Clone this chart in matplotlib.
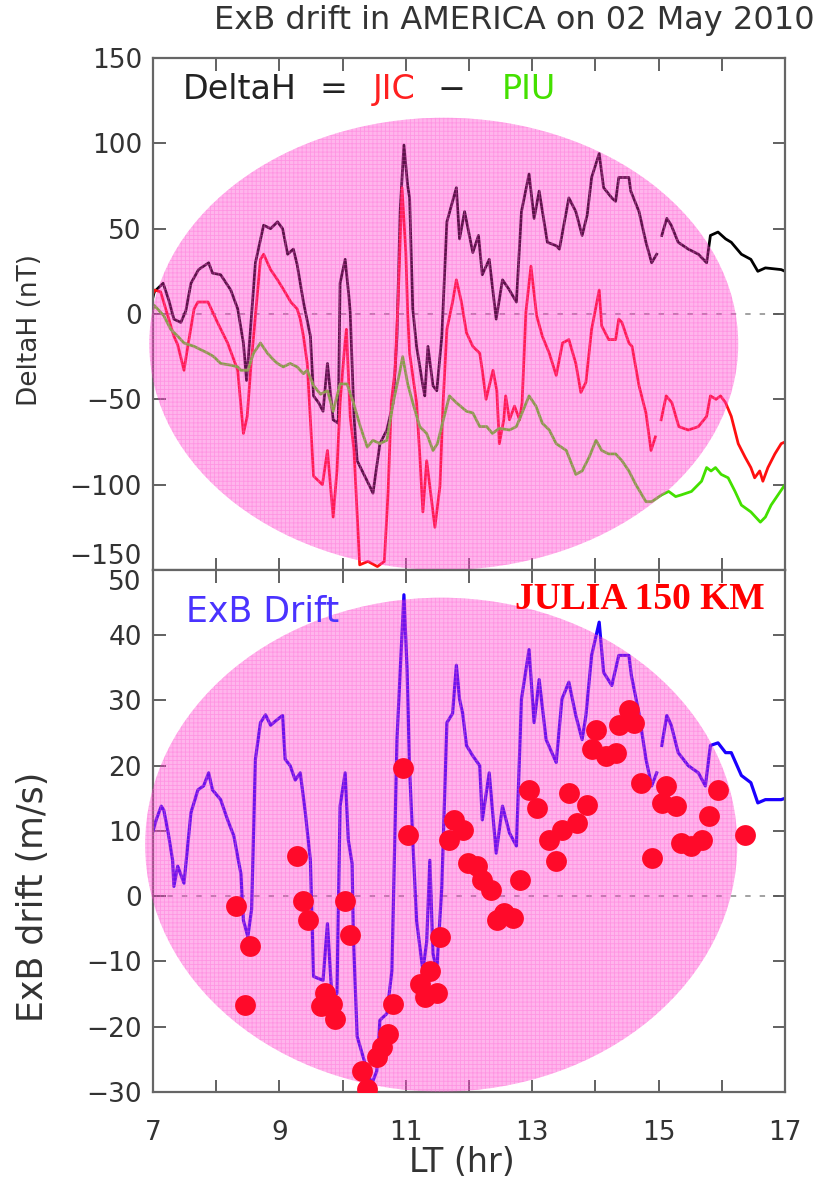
import numpy as np
import matplotlib
matplotlib.use("Agg")
import matplotlib.pyplot as plt
from matplotlib.patches import Ellipse

nan = np.nan
plt.rcParams['hatch.linewidth'] = 0.6

# DeltaH = JIC - PIU (nT)
dh_t = [7.00, 7.02, 7.16, 7.25, 7.33, 7.44, 7.52, 7.60, 7.72, 7.88, 7.94, 8.07, 8.23, 8.34, 8.43, 8.48,
        8.54, 8.62, 8.75, 8.86, 8.97, 9.05, 9.13, 9.22, 9.28, 9.38, 9.49, 9.54, 9.62, 9.69, 9.76, 9.85,
        9.93, 9.96, 10.04, 10.10, 10.12, 10.18, 10.23, 10.35, 10.43, 10.48, 10.59, 10.70, 10.80, 10.86,
        10.91, 10.97, 11.03, 11.06, 11.11, 11.17, 11.27, 11.30, 11.35, 11.43, 11.49, 11.57, 11.65, 11.80,
        11.85, 11.93, 12.06, 12.15, 12.21, 12.32, 12.43, 12.53, 12.64, 12.75, 12.83, 12.95, 13.03, 13.11,
        13.24, 13.38, 13.43, 13.58, 13.69, 13.79, 13.87, 13.94, 14.06, 14.13, 14.26, 14.32, 14.37, 14.53,
        14.56, 14.69, 14.80, 14.89, 14.97, 15.00, 15.05, 15.13, 15.20, 15.31, 15.47, 15.63, 15.76, 15.82,
        15.94, 16.06, 16.15, 16.31, 16.46, 16.57, 16.69, 16.94, 17.00]
dh_v = [10, 13, 18, 8, -3, -5, 2, 18, 26, 30, 24, 23, 14, 3, -17, -39,
        -10, 30, 52, 50, 54, 50, 35, 38, 29, 7, -13, -48, -52, -57, -29, -62,
        -64, 18, 32, 10, 1, -60, -86, -95, -101, -105, -76, -68, -52, -13,
        60, 99, 75, 68, 3, -19, -42, -48, -19, -42, -45, -13, 54, 74,
        44, 60, 36, 46, 23, 32, -3, 20, 14, 7, 60, 82, 56, 72,
        42, 40, 38, 68, 60, 46, 58, 80, 94, 74, 68, 66, 80, 80,
        72, 60, 42, 30, 35, nan, 46, 56, 52, 42, 38, 35, 30, 46,
        48, 44, 42, 35, 32, 25, 27, 26, 25]

# JIC (nT)
jic_t = [7.00, 7.02, 7.12, 7.33, 7.39, 7.49, 7.55, 7.65, 7.71, 7.87, 8.02, 8.18, 8.34, 8.43, 8.49, 8.55,
         8.70, 8.75, 8.86, 8.97, 9.07, 9.18, 9.28, 9.33, 9.38, 9.44, 9.54, 9.68, 9.76, 9.85, 9.91, 9.96,
         10.03, 10.06, 10.12, 10.18, 10.27, 10.40, 10.55, 10.66, 10.72, 10.77, 10.83, 10.88, 10.94, 11.00,
         11.03, 11.06, 11.17, 11.22, 11.27, 11.33, 11.46, 11.54, 11.59, 11.65, 11.74, 11.80, 11.88, 11.96,
         12.06, 12.17, 12.21, 12.27, 12.38, 12.44, 12.48, 12.55, 12.58, 12.64, 12.72, 12.80, 12.84, 12.90,
         12.98, 13.07, 13.16, 13.27, 13.38, 13.48, 13.58, 13.69, 13.77, 13.85, 13.94, 14.06, 14.10, 14.21,
         14.32, 14.37, 14.42, 14.53, 14.58, 14.69, 14.80, 14.88, 14.95, 15.00, 15.04, 15.12, 15.21, 15.32,
         15.47, 15.63, 15.76, 15.82, 15.91, 15.98, 16.06, 16.15, 16.26, 16.37, 16.46, 16.52, 16.60, 16.65,
         16.73, 16.84, 16.94, 17.00]
jic_v = [12, 14, 13, -13, -18, -33, -19, 3, 7, 7, -5, -17, -33, -70, -60, -30,
         32, 35, 26, 20, 14, 7, 3, -3, -13, -29, -95, -100, -80, -119, -92, -52,
         -20, -9, -60, -80, -147, -145, -148, -145, -104, -52, -33, 10, 74, 36,
         0, -23, -52, -82, -116, -86, -125, -101, -52, -9, 7, 20, 7, -11,
         -19, -23, -33, -50, -33, -45, -76, -62, -48, -62, -54, -62, -52, 1,
         28, -1, -13, -23, -36, -17, -15, -29, -46, -40, -9, 14, -7, -15,
         -15, -3, -5, -17, -19, -42, -58, -80, -72, nan, -62, -48, -52, -66,
         -68, -66, -60, -48, -50, -48, -52, -60, -76, -84, -90, -96, -92, -98,
         -90, -82, -76, -75]

# PIU (nT)
piu_t = [7.00, 7.02, 7.17, 7.28, 7.39, 7.49, 7.65, 7.87, 7.96, 8.07, 8.23, 8.34, 8.39, 8.50, 8.59, 8.70,
         8.81, 8.91, 8.97, 9.06, 9.17, 9.28, 9.38, 9.44, 9.54, 9.65, 9.76, 9.85, 9.96, 10.07, 10.17, 10.28,
         10.39, 10.48, 10.59, 10.70, 10.80, 10.91, 10.95, 11.03, 11.11, 11.22, 11.33, 11.43, 11.50, 11.58,
         11.69, 11.80, 11.96, 12.06, 12.17, 12.28, 12.37, 12.48, 12.64, 12.75, 12.84, 12.95, 13.06, 13.16,
         13.27, 13.38, 13.54, 13.69, 13.79, 13.90, 14.01, 14.10, 14.21, 14.32, 14.42, 14.53, 14.64, 14.80,
         14.89, 15.05, 15.16, 15.27, 15.36, 15.52, 15.68, 15.76, 15.83, 15.90, 15.99, 16.10, 16.21, 16.31,
         16.46, 16.61, 16.69, 16.78, 16.89, 17.00]
piu_v = [3, 5, -1, -9, -13, -17, -19, -23, -25, -29, -30, -31, -33, -33, -23, -17,
         -23, -27, -29, -31, -29, -31, -35, -33, -42, -47, -45, -57, -41, -41, -52, -66,
         -78, -74, -76, -74, -52, -33, -25, -41, -52, -66, -70, -80, -76, -64,
         -48, -52, -57, -58, -66, -66, -70, -67, -68, -66, -58, -48, -54, -64,
         -68, -76, -80, -94, -92, -84, -74, -80, -82, -82, -86, -92, -100, -110,
         -110, -106, -104, -107, -106, -104, -98, -90, -92, -90, -94, -96, -104, -112,
         -116, -122, -119, -112, -106, -100]

# ExB drift (m/s)
exb_t = [7.00, 7.05, 7.13, 7.17, 7.24, 7.31, 7.33, 7.39, 7.49, 7.60, 7.71, 7.80, 7.88, 7.94, 8.07, 8.18,
         8.28, 8.35, 8.39, 8.43, 8.50, 8.56, 8.62, 8.70, 8.78, 8.86, 8.97, 9.05, 9.09, 9.17, 9.25, 9.33,
         9.41, 9.49, 9.54, 9.69, 9.76, 9.83, 9.91, 9.96, 10.04, 10.09, 10.15, 10.17, 10.23, 10.39, 10.46,
         10.54, 10.59, 10.70, 10.78, 10.86, 10.91, 10.97, 11.02, 11.06, 11.11, 11.17, 11.27, 11.33, 11.38,
         11.43, 11.49, 11.57, 11.65, 11.74, 11.80, 11.85, 11.90, 11.96, 12.06, 12.17, 12.21, 12.32, 12.43,
         12.53, 12.64, 12.75, 12.83, 12.95, 13.03, 13.11, 13.22, 13.38, 13.47, 13.58, 13.69, 13.79, 13.85,
         13.94, 14.06, 14.13, 14.26, 14.37, 14.53, 14.57, 14.69, 14.80, 14.89, 14.97, 15.00, 15.05, 15.13,
         15.20, 15.31, 15.47, 15.63, 15.74, 15.82, 15.94, 16.06, 16.15, 16.31, 16.46, 16.57, 16.69, 16.94,
         17.00]
exb_v = [10, 11.7, 13.8, 13.2, 9.7, 5.5, 1.5, 4.6, 2, 12.8, 16.3, 16.9, 18.9, 16.3, 14.8, 11.7,
         9.2, 5.5, 3.5, -3.7, -6.2, -2, 21, 26.6, 27.8, 26.2, 27.1, 27.7, 21, 20, 17.8, 18.9,
         12.8, 5.5, -12.3, -12.9, -4.2, -15.4, -14.9, 13.8, 18.9, 8.6, 5, -6.2, -21.5, -26.8, -28.8,
         -26.8, -19, -18, -11.4, 24, 34.3, 46.2, 34.8, 19.4, 8.6, -3.7, -11.4, -7, 5.5,
         -8.8, -11.4, 1.5, 26.6, 28, 35.4, 30.2, 28, 23.1, 21.5, 20, 11.7, 18.9, 6.6,
         13.8, 9.7, 7.7, 30.2, 37.8, 26.6, 33.2, 24, 20.5, 30.2, 32.8, 27.7, 24, 27.7,
         36.9, 42, 34.3, 32.3, 36.9, 36.9, 33.8, 28, 21, 16.9, 18.9, nan, 23.1, 27.7,
         26.2, 22, 20, 18.9, 16.9, 23.1, 23.5, 22, 22, 18.5, 17.4, 14.3, 14.8, 14.8,
         15]

# JULIA 150 km drifts (m/s)
jul_t = [8.31, 8.54, 8.46, 9.28, 9.38, 9.46, 9.65, 9.72, 9.83, 9.88, 10.04, 10.12, 10.31, 10.39, 10.54,
         10.62, 10.72, 10.80, 10.95, 11.03, 11.22, 11.30, 11.38, 11.49, 11.54, 11.69, 11.77, 11.90, 11.98,
         12.13, 12.21, 12.35, 12.45, 12.56, 12.69, 12.80, 12.95, 13.08, 13.27, 13.38, 13.47, 13.58, 13.71,
         13.87, 13.94, 14.01, 14.17, 14.32, 14.37, 14.53, 14.61, 14.72, 14.89, 15.05, 15.11, 15.27, 15.36,
         15.52, 15.68, 15.79, 15.94, 16.37]
jul_v = [-1.5, -7.7, -16.6, 6.2, -0.8, -3.7, -16.9, -14.9, -16.5, -18.8, -0.8, -6, -26.8, -29.5, -24.6,
         -23.1, -21.1, -16.5, 19.7, 9.4, -13.4, -15.4, -11.5, -14.9, -6.2, 8.6, 11.7, 10.2, 5.1,
         4.6, 2.5, 0.9, -3.7, -2.6, -3.4, 2.5, 16.3, 13.5, 8.6, 5.4, 10.2, 15.8, 11.2,
         14, 22.5, 25.5, 21.5, 22, 26.3, 28.6, 26.6, 17.4, 5.8, 14.3, 16.9, 13.8, 8.2,
         7.7, 8.6, 12.3, 16.3, 9.4]

hours = list(range(7, 18))
hour_labels = ['7', '', '9', '', '11', '', '13', '', '15', '', '17']

fig = plt.figure(figsize=(8.25, 11.81), dpi=100)
ax1 = fig.add_axes([0.1855, 0.5174, 0.766, 0.4335])
ax2 = fig.add_axes([0.1855, 0.0754, 0.766, 0.442])

pink = '#ff33cc'
tick_col = '#333333'


def blob(ax, xy, w, h):
    # translucent pink oval laid over the curves, with a fine dotted texture
    ax.add_patch(Ellipse(xy, w, h, facecolor=pink, edgecolor='none',
                         alpha=0.36, zorder=3, clip_on=False))
    ax.add_patch(Ellipse(xy, w, h, facecolor='none', edgecolor='#ff5ad2', lw=0,
                         hatch='++++', alpha=0.35, zorder=3, clip_on=False))


for ax in (ax1, ax2):
    ax.set_xlim(7, 17)
    ax.set_xticks(hours)
    ax.axhline(0, color='#9a9a9a', lw=1.3, ls=(0, (3, 5)), zorder=1)
    ax.tick_params(direction='in', top=True, right=True, length=9, width=1.3,
                   colors='#555555', labelcolor=tick_col, labelsize=19, pad=8)
    for s in ax.spines.values():
        s.set_color('#666666')
        s.set_linewidth(1.6)

# top panel
ax1.plot(dh_t, dh_v, color='black', lw=2.0, zorder=2)
ax1.plot(jic_t, jic_v, color='#ff1010', lw=2.0, zorder=2)
ax1.plot(piu_t, piu_v, color='#44e000', lw=2.0, zorder=2)
ax1.set_ylim(-150, 150)
ax1.set_yticks([-150, -100, -50, 0, 50, 100, 150])
ax1.set_xticklabels([])
blob(ax1, (11.6, -17.5), 9.32, 265)
ax1.yaxis.get_majorticklabels()[0].set_va('bottom')

ax1.text(0.047, 0.9375, 'DeltaH', transform=ax1.transAxes, fontsize=24, color='#222222', va='center')
ax1.text(0.285, 0.9375, '=', transform=ax1.transAxes, fontsize=24, color='#222222', va='center', ha='center')
ax1.text(0.348, 0.9375, 'JIC', transform=ax1.transAxes, fontsize=24, color='#ff2020', va='center')
ax1.text(0.472, 0.9375, '\u2212', transform=ax1.transAxes, fontsize=24, color='#222222', va='center', ha='center')
ax1.text(0.552, 0.9375, 'PIU', transform=ax1.transAxes, fontsize=24, color='#44e000', va='center')

# bottom panel
ax2.plot(exb_t, exb_v, color='#1a00ff', lw=2.3, zorder=2)
blob(ax2, (11.56, 7.9), 9.37, 75.7)
ax2.plot(jul_t, jul_v, 'o', color='#ff0a2a', ms=15, mec='none', zorder=4)
ax2.set_ylim(-30, 50)
ax2.set_yticks(range(-30, 51, 10))
ax2.set_xticklabels(hour_labels)
ax2.tick_params(axis='x', pad=20)
ax2.yaxis.get_majorticklabels()[-1].set_va('top')

ax2.text(0.052, 0.9195, 'ExB Drift', transform=ax2.transAxes, fontsize=25, color='#4a33ff', va='center')
ax2.text(0.968, 0.9425, 'JULIA 150 KM', transform=ax2.transAxes, fontsize=27, color='red',
         family='Liberation Serif', weight='bold', ha='right', va='center', zorder=6)

fig.text(0.623, 0.983, 'ExB drift in AMERICA on 02 May 2010', fontsize=23, color='#333333',
         ha='center', va='center')
fig.text(0.036, 1 - 330 / 1181, 'DeltaH (nT)', rotation=90, fontsize=19, color='#333333',
         ha='center', va='center')
fig.text(0.040, 1 - 897 / 1181, 'ExB drift (m/s)', rotation=90, fontsize=25, color='#333333',
         ha='center', va='center')
fig.text(0.56, 1 - 1163 / 1181, 'LT (hr)', fontsize=24, color='#333333', ha='center', va='center')

fig.savefig('out.png', dpi=100)
